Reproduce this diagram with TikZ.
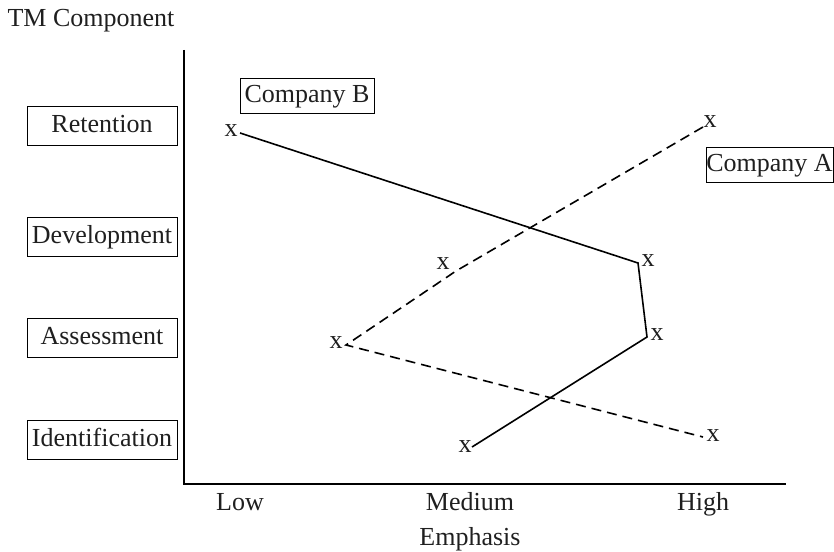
\documentclass[tikz,border=0pt]{standalone}
\usepackage{fontspec}
\setmainfont{Liberation Serif}
\begin{document}
\begin{tikzpicture}[x=1pt,y=-1pt,
  every node/.style={font=\fontsize{26}{31}\selectfont, text=black!88},
  compbox/.style={draw, line width=1pt, minimum width=150pt, minimum height=39pt,
    inner sep=0pt, text height=20pt, text depth=6pt},
  labbox/.style={draw, line width=1pt, minimum height=35pt, inner sep=0pt,
    text height=20pt, text depth=6pt},
  axislabel/.style={anchor=base},
  xmark/.style={inner sep=0pt},
  axisline/.style={line width=1.4pt},
  seriesB/.style={line width=1.6pt},
  seriesA/.style={line width=1.6pt, dash pattern=on 10pt off 6pt}]
\useasboundingbox (0,0) rectangle (834,551);

% axes
\coordinate (top) at (184,50);
\coordinate (origin) at (184,484);
\coordinate (xend) at (786,484);
\draw[axisline] (top) -- (origin) -- (xend);

% vertical axis title and talent management components
\node[axislabel] (ytitle) at (91,27) {TM Component};
\node[compbox] (ret) at (102,125.5) {Retention};
\node[compbox] (dev) at (102,236.5) {Development};
\node[compbox] (ass) at (102,337.5) {Assessment};
\node[compbox] (ide) at (102,439.5) {Identification};

% horizontal axis labels
\node[axislabel] (low) at (240,510) {Low};
\node[axislabel] (med) at (470,510) {Medium};
\node[axislabel] (high) at (703,510) {High};
\node[axislabel] (xtitle) at (470,545) {Emphasis};

% series labels
\node[labbox, minimum width=134pt] (cb) at (307,95.5) {Company B};
\node[labbox, minimum width=127pt] (ca) at (769.5,164.5) {Company A};

% Company B data points
\coordinate (b1) at (240,133);
\coordinate (b2) at (638,263);
\coordinate (b3) at (647,337);
\coordinate (b4) at (472,447);
\node[xmark] (b1x) at (231,131) {x};
\node[xmark] (b2x) at (648,261) {x};
\node[xmark] (b3x) at (657,335) {x};
\node[xmark] (b4x) at (465,447) {x};
\draw[seriesB] (b1) -- (b2) -- (b3) -- (b4);

% Company A data points
\coordinate (a1) at (703,127);
\coordinate (a2) at (456,271);
\coordinate (a3) at (346,345);
\coordinate (a4) at (703,437);
\node[xmark] (a1x) at (710,122) {x};
\node[xmark] (a2x) at (443,264) {x};
\node[xmark] (a3x) at (336,343) {x};
\node[xmark] (a4x) at (713,436) {x};
\draw[seriesA] (a1) -- (a2) -- (a3) -- (a4);
\end{tikzpicture}
\end{document}
